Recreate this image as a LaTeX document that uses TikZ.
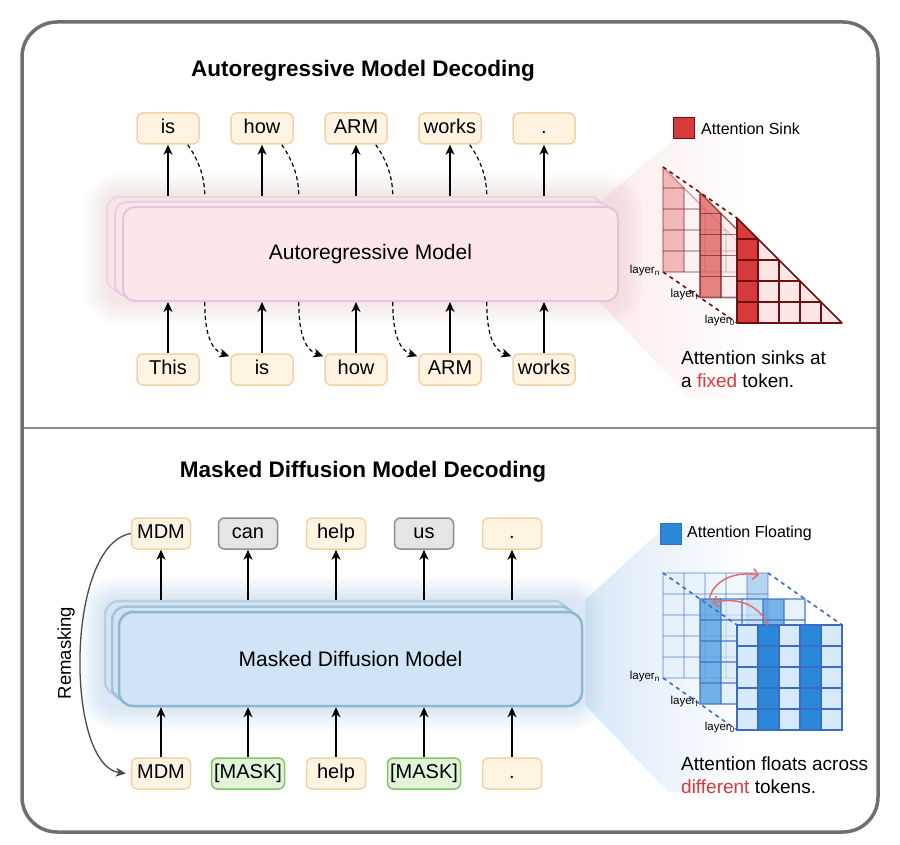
\documentclass[tikz,border=0pt]{standalone}
\usepackage{fontspec}
\setmainfont{Liberation Sans}
\usetikzlibrary{arrows.meta,calc}

\definecolor{framegray}{HTML}{6F6F6F}
\definecolor{divgray}{HTML}{8A8A8A}
\definecolor{tokfill}{HTML}{FFF4E2}
\definecolor{tokdraw}{HTML}{F5D2A5}
\definecolor{grayfill}{HTML}{E5E5E5}
\definecolor{graydraw}{HTML}{8E8E8E}
\definecolor{greenfill}{HTML}{E2F3D8}
\definecolor{greendraw}{HTML}{80C75E}
\definecolor{arfill}{HTML}{FCE6E7}
\definecolor{ardraw}{HTML}{E0C4E2}
\definecolor{arglow}{HTML}{F6C8CA}
\definecolor{arfun}{HTML}{FCE9EA}
\definecolor{mdmfill}{HTML}{D1E3F6}
\definecolor{mdmdraw}{HTML}{8FB6CF}
\definecolor{mdmglow}{HTML}{BCD6F0}
\definecolor{mdmfun}{HTML}{D9E8F7}
\definecolor{sinkred}{HTML}{D63A3A}
\definecolor{sinkline}{HTML}{6E1010}
\definecolor{sinklight}{HTML}{FDE6E6}
\definecolor{fdark}{HTML}{2B88D8}
\definecolor{flight}{HTML}{D6EAFB}
\definecolor{fline}{HTML}{3C6CC4}
\definecolor{arrred}{HTML}{E36C6C}
\definecolor{txtred}{HTML}{D93B3B}
\definecolor{remgray}{HTML}{4A4A4A}

\newcommand\sinktri[3]{%
  \begin{scope}[shift={(#1,#2)}, opacity=#3]
    \fill[sinklight] (0,0) -- (0,105) -- (105,105) -- cycle;
    \begin{scope}
      \clip (0,0) -- (0,105) -- (105,105) -- cycle;
      \fill[sinkred] (0,0) rectangle (21,105);
      \foreach \k in {1,2,3,4} {
        \draw[sinkline, line width=1.5pt] (\k*21,0) -- (\k*21,105);
        \draw[sinkline, line width=1.5pt] (0,\k*21) -- (105,\k*21);
      }
    \end{scope}
    \draw[sinkline, line width=1.6pt, line join=round] (0,0) -- (0,105) -- (105,105) -- cycle;
  \end{scope}}

\newcommand\floatgrid[4]{%
  \begin{scope}[shift={(#1,#2)}, opacity=#3]
    \fill[flight] (0,0) rectangle (105,105);
    \foreach \c in {#4} {\fill[fdark] ({(\c-1)*21},0) rectangle ({\c*21},105);}
    \foreach \k in {1,2,3,4} {
      \draw[fline, line width=1.6pt] (\k*21,0) -- (\k*21,105);
      \draw[fline, line width=1.6pt] (0,\k*21) -- (105,\k*21);
    }
    \draw[fline, line width=1.6pt] (0,0) rectangle (105,105);
  \end{scope}}

\begin{document}
\begin{tikzpicture}[x=1pt,y=-1pt,
  tokbase/.style={rounded corners=6pt, line width=1.5pt, minimum height=31pt, inner sep=0pt,
    font=\fontsize{20}{24}\selectfont, text height=14pt, text depth=4pt},
  tok/.style={tokbase, draw=tokdraw, fill=tokfill, minimum width=62pt},
  tokb/.style={tokbase, draw=tokdraw, fill=tokfill, minimum width=59pt},
  tokgray/.style={tokbase, draw=graydraw, fill=grayfill, minimum width=59pt},
  tokmask/.style={tokbase, draw=greendraw, fill=greenfill, minimum width=73pt},
  arbox/.style={draw=ardraw, fill=arfill, line width=2pt, rounded corners=12pt,
    minimum width=495pt, minimum height=94pt, font=\fontsize{21}{25}\selectfont},
  mdmbox/.style={draw=mdmdraw, fill=mdmfill, line width=2.5pt, rounded corners=14pt,
    minimum width=463pt, minimum height=94pt, font=\fontsize{21}{25}\selectfont},
  arr/.style={line width=1.3pt, -{Stealth[length=10pt,width=9pt,inset=3pt]}},
  dsh/.style={line width=1.2pt, dash pattern=on 4pt off 3pt},
  redarr/.style={draw=arrred, line width=1.5pt, -{Straight Barb[length=5pt,width=11pt]}},
  lbl/.style={anchor=east, inner sep=0pt, font=\fontsize{11.5}{13}\selectfont},
  legtxt/.style={anchor=west, inner sep=0pt, font=\fontsize{16}{19}\selectfont},
  side/.style={anchor=west, inner sep=0pt, align=left, font=\fontsize{19}{23}\selectfont},
  ttl/.style={font=\bfseries\fontsize{22.5}{27}\selectfont}
]
\useasboundingbox (0,0) rectangle (900,845);
\fill[white] (0,0) rectangle (900,845);

% funnels
\shade[left color=arfun, right color=white] (596,205) -- (695,122) -- (745,122) -- (745,398) -- (690,398) -- (596,298) -- cycle;
\shade[left color=mdmfun, right color=white] (585,600) -- (668,524) -- (750,524) -- (750,792) -- (668,792) -- (585,705) -- cycle;

% glows
\foreach \i [evaluate=\i as \r using 12+2*\i] in {1,...,12} {
  \fill[arglow, opacity=0.035, rounded corners=\r pt] ({107-2*\i},{197-2*\i}) rectangle ({618+2*\i},{301+2*\i});
  \fill[mdmglow, opacity=0.05, rounded corners=\r pt] ({104-2*\i},{601-2*\i}) rectangle ({582+2*\i},{706+2*\i});
}

% model boxes
\node[arbox, opacity=0.45] (ar3) at (354.5,244) {};
\node[arbox, opacity=0.7] (ar2) at (362.5,249) {};
\node[arbox] (ar) at (370.5,254) {Autoregressive Model};

\node[mdmbox, opacity=0.45] (mdm3) at (336.5,648) {};
\node[mdmbox, opacity=0.7] (mdm2) at (343.5,653.5) {};
\node[mdmbox] (mdm) at (350.5,659) {Masked Diffusion Model};

% top section tokens
\node[tok] (t1) at (168,128.5) {is};
\node[tok] (t2) at (262,128.5) {how};
\node[tok] (t3) at (356,128.5) {ARM};
\node[tok] (t4) at (450,128.5) {works};
\node[tok] (t5) at (544,128.5) {.};
\node[tok] (b1) at (168,369.5) {This};
\node[tok] (b2) at (262,369.5) {is};
\node[tok] (b3) at (356,369.5) {how};
\node[tok] (b4) at (450,369.5) {ARM};
\node[tok] (b5) at (544,369.5) {works};

\foreach \i in {1,...,5} {
  \draw[arr] (b\i.north) -- (b\i.north |- ar.south);
  \draw[arr] (t\i.south |- ar3.north) -- (t\i.south);
}
\foreach \i [evaluate=\i as \j using int(\i+1)] in {1,...,4} {
  \draw[dsh] ($(t\i.south east)+(-12,0)$) .. controls +(9,13) and +(0,-22) .. ($(t\i.south east |- ar3.north)+(5,0)$);
  \draw[dsh, -{Stealth[length=10pt,width=9pt,inset=3pt]}] ($(t\i.south east |- ar.south)+(5,0)$) .. controls +(0,27) and +(-20,-7) .. ($(b\j.north west)+(-1,3)$);
}

% bottom section tokens
\node[tokb] (mt1) at (161,533.5) {MDM};
\node[tokgray] (mt2) at (248,533.5) {can};
\node[tokb] (mt3) at (336,533.5) {help};
\node[tokgray] (mt4) at (424,533.5) {us};
\node[tokb] (mt5) at (512,533.5) {.};
\node[tokb] (mb1) at (161,773.5) {MDM};
\node[tokmask] (mb2) at (248,773.5) {[MASK]};
\node[tokb] (mb3) at (336,773.5) {help};
\node[tokmask] (mb4) at (424,773.5) {[MASK]};
\node[tokb] (mb5) at (512,773.5) {.};

\foreach \i in {1,...,5} {
  \draw[arr] (mb\i.north) -- (mb\i.north |- mdm.south);
  \draw[arr] (mt\i.south |- mdm3.north) -- (mt\i.south);
}

% remasking
\draw[draw=remgray, line width=1.3pt, -{Stealth[length=10pt,width=9pt,inset=3pt]}]
  (mt1.west) .. controls (65,545) and (65,765) .. ($(mb1.west)+(-5,0)$);
\node[rotate=90, font=\fontsize{18.5}{22}\selectfont] (rem) at (66,653) {Remasking};

% attention sink grids
\sinktri{663}{167}{0.3}
\sinktri{700}{192.5}{0.6}
\sinktri{737}{218}{1}
\draw[sinkline, line width=1.6pt, dash pattern=on 4pt off 4pt] (663,167) -- (737,218);
\draw[sinkline, line width=1.6pt, dash pattern=on 4pt off 4pt] (663,272) -- (737,323);
\node[lbl] (ln1) at (660,271) {layer\textsubscript{n}};
\node[lbl] (li1) at (698,295) {layer\textsubscript{i}};
\node[lbl] (l01) at (735,321) {layer\textsubscript{0}};

\node[draw=sinkline, fill=sinkred, line width=1pt, minimum size=21pt, inner sep=0pt] (lgs) at (684,128.5) {};
\node[legtxt] (lgst) at (701,128.5) {Attention Sink};
\node[side] (sinktxt) at (681,369.5) {Attention sinks at\\a \textcolor{txtred}{fixed} token.};

% attention floating grids
\floatgrid{663}{573}{0.3}{5}
\floatgrid{700}{599}{0.6}{1,4}
\floatgrid{737}{625}{1}{2,4}
\draw[fline, line width=1.6pt, dash pattern=on 4pt off 4pt] (663,573) -- (737,625);
\draw[fline, line width=1.6pt, dash pattern=on 4pt off 4pt] (768,573) -- (842,625);
\draw[fline, line width=1.6pt, dash pattern=on 4pt off 4pt] (663,678) -- (737,730);
\draw[redarr] (768,625) .. controls (758,603) and (735,597) .. (712,603);
\draw[redarr] (709,600) .. controls (713,580) and (735,571) .. (759,575);
\node[lbl] (ln2) at (660,677) {layer\textsubscript{n}};
\node[lbl] (li2) at (698,702) {layer\textsubscript{i}};
\node[lbl] (l02) at (735,728) {layer\textsubscript{0}};

\node[draw=fline, fill=fdark, line width=1pt, minimum size=21pt, inner sep=0pt] (lgf) at (670.5,534) {};
\node[legtxt] (lgft) at (687,533.5) {Attention Floating};
\node[side] (floattxt) at (681,775) {Attention floats across\\\textcolor{txtred}{different} tokens.};

% titles
\node[ttl] (title1) at (363,71) {Autoregressive Model Decoding};
\node[ttl] (title2) at (363,472) {Masked Diffusion Model Decoding};

% frame
\draw[draw=divgray, line width=2.5pt] (22,428) -- (878,428);
\draw[draw=framegray, line width=3.5pt, rounded corners=35pt] (22,22) rectangle (878,832);
\end{tikzpicture}
\end{document}
